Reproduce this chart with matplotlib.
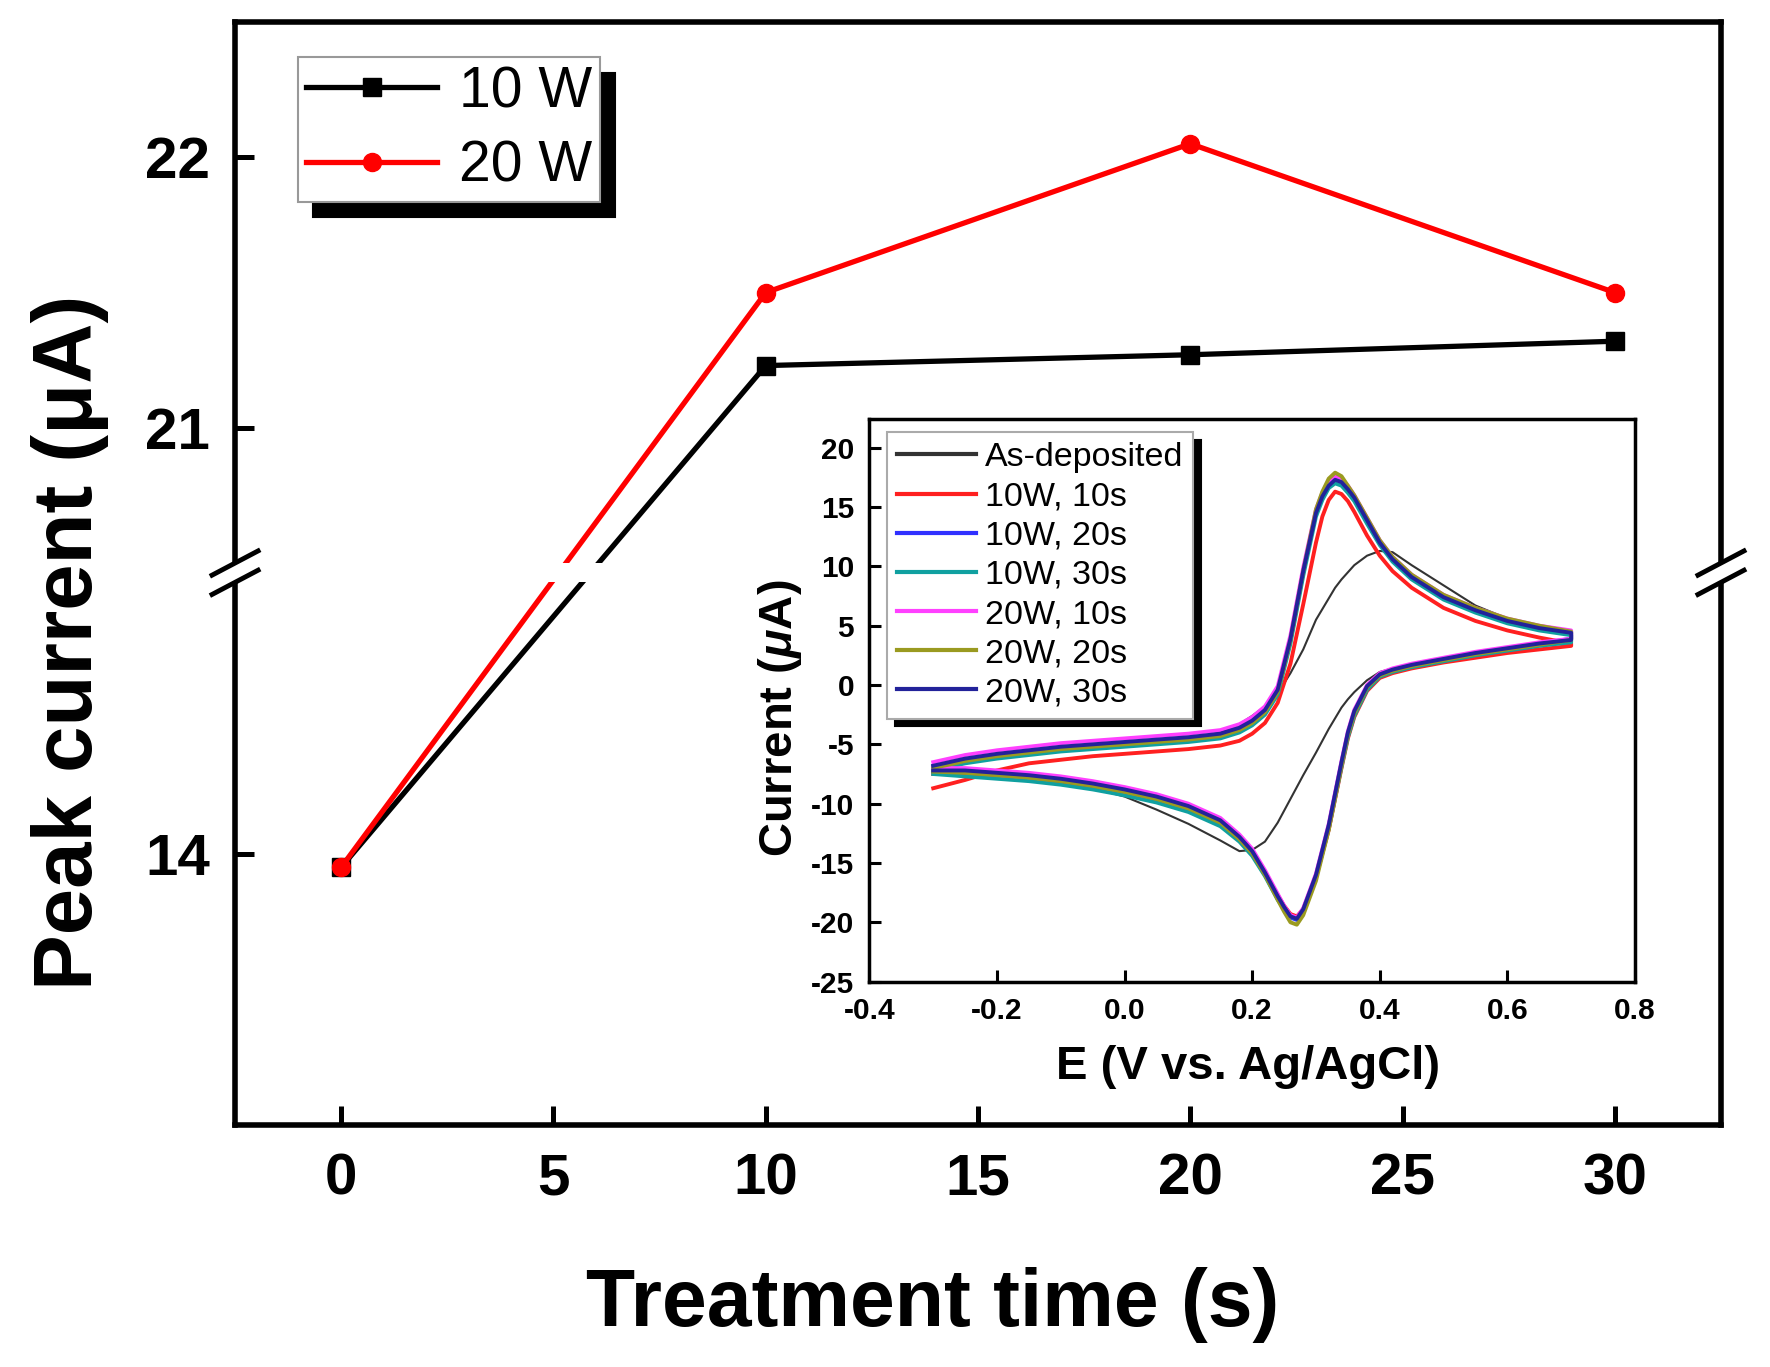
import numpy as np
import matplotlib
matplotlib.use('Agg')
import matplotlib.pyplot as plt
from matplotlib.patches import Rectangle
from matplotlib.ticker import FormatStrFormatter, NullLocator

plt.rcParams['font.family'] = ['Liberation Sans', 'DejaVu Sans']
plt.rcParams['font.weight'] = 'bold'
plt.rcParams['axes.unicode_minus'] = False
plt.rcParams['mathtext.fontset'] = 'custom'
plt.rcParams['mathtext.rm'] = 'Liberation Sans:bold'
plt.rcParams['mathtext.it'] = 'Liberation Sans:italic:bold'
plt.rcParams['mathtext.bf'] = 'Liberation Sans:bold'

# main plot: peak current vs treatment time
time_s = [0, 10, 20, 30]
peak_10w = [13.95, 21.23, 21.27, 21.32]
peak_20w = [13.95, 21.50, 22.05, 21.50]
time_ticks = [0, 5, 10, 15, 20, 25, 30]
peak_ticks = [14, 21, 22]

# broken y axis: lower and upper segments, gap edges in axes fraction
y_low = (13.0, 15.0)
y_high = (20.5, 22.5)
gap = (0.492, 0.5095)

# inset: cyclic voltammograms, forward and reverse scans
E_fwd = [-0.30, -0.25, -0.20, -0.15, -0.10, -0.05, 0.00, 0.05, 0.10, 0.15, 0.18,
         0.20, 0.22, 0.24, 0.26, 0.28, 0.30, 0.31, 0.32, 0.33, 0.34, 0.35, 0.36,
         0.38, 0.40, 0.42, 0.45, 0.50, 0.55, 0.60, 0.65, 0.70]
E_rev = [0.70, 0.65, 0.60, 0.55, 0.50, 0.45, 0.42, 0.40, 0.38, 0.36, 0.35, 0.34,
         0.32, 0.30, 0.28, 0.27, 0.26, 0.25, 0.24, 0.22, 0.20, 0.18, 0.15, 0.10,
         0.05, 0.00, -0.05, -0.10, -0.15, -0.20, -0.25, -0.30]

asdep_fwd = [-7.0, -6.5, -6.1, -5.8, -5.5, -5.3, -5.1, -4.9, -4.6, -4.0, -3.3,
             -2.6, -1.8, -0.7, 1.0, 3.0, 5.5, 6.4, 7.3, 8.2, 8.9, 9.5, 10.1,
             10.9, 11.3, 11.2, 10.1, 8.4, 6.7, 5.6, 4.9, 4.4]
asdep_rev = [3.9, 3.5, 3.1, 2.7, 2.2, 1.7, 1.4, 1.1, 0.4, -0.6, -1.2, -1.9,
             -3.7, -5.7, -7.6, -8.6, -9.6, -10.6, -11.6, -13.2, -13.9, -14.0, -13.1, -11.7,
             -10.5, -9.4, -8.7, -8.2, -7.8, -7.5, -7.3, -7.2]

w10s10_fwd = [-8.7, -8.0, -7.2, -6.6, -6.3, -6.0, -5.8, -5.6, -5.4, -5.1, -4.7,
              -4.1, -3.2, -1.5, 1.8, 6.8, 12.0, 14.2, 15.6, 16.3, 16.1, 15.5, 14.6,
              12.6, 10.9, 9.6, 8.2, 6.5, 5.4, 4.6, 4.0, 3.5]
w10s10_rev = [3.3, 3.0, 2.7, 2.3, 1.9, 1.4, 1.0, 0.6, -0.5, -2.7, -4.5, -7.0,
              -12.2, -16.2, -18.9, -19.5, -19.3, -18.6, -17.7, -15.8, -14.1, -12.9, -11.6, -10.4,
              -9.6, -9.0, -8.5, -8.1, -7.8, -7.6, -7.5, -7.5]

w10s20_fwd = [-6.9, -6.3, -5.9, -5.6, -5.3, -5.1, -4.9, -4.7, -4.5, -4.2, -3.7,
              -3.1, -2.2, -0.5, 3.8, 9.5, 14.6, 16.0, 17.0, 17.5, 17.3, 16.6, 15.9,
              14.0, 12.1, 10.7, 9.2, 7.5, 6.4, 5.5, 4.9, 4.5]
w10s20_rev = [3.9, 3.5, 3.1, 2.7, 2.2, 1.7, 1.3, 0.9, -0.1, -2.3, -4.1, -6.6,
              -11.9, -16.1, -19.0, -19.8, -19.6, -18.8, -17.9, -15.9, -14.1, -12.9, -11.5, -10.3,
              -9.5, -8.9, -8.4, -8.0, -7.7, -7.5, -7.3, -7.3]

w10s30_fwd = [-7.2, -6.6, -6.2, -5.9, -5.6, -5.4, -5.2, -5.0, -4.8, -4.5, -4.0,
              -3.4, -2.5, -0.8, 3.5, 9.2, 14.2, 15.6, 16.6, 17.0, 16.8, 16.2, 15.5,
              13.6, 11.8, 10.4, 8.9, 7.2, 6.1, 5.2, 4.6, 4.2]
w10s30_rev = [3.6, 3.3, 2.9, 2.5, 2.0, 1.5, 1.1, 0.7, -0.4, -2.6, -4.4, -6.9,
              -12.1, -16.2, -19.0, -19.7, -19.5, -18.9, -18.1, -16.1, -14.4, -13.2, -11.9, -10.7,
              -9.9, -9.3, -8.8, -8.4, -8.1, -7.9, -7.7, -7.5]

w20s10_fwd = [-6.5, -5.9, -5.5, -5.2, -4.9, -4.7, -4.5, -4.3, -4.1, -3.8, -3.3,
              -2.7, -1.8, -0.1, 4.2, 9.9, 14.8, 16.2, 17.2, 17.6, 17.4, 16.8, 16.0,
              14.1, 12.2, 10.8, 9.3, 7.6, 6.5, 5.6, 5.0, 4.6]
w20s10_rev = [3.9, 3.6, 3.2, 2.8, 2.3, 1.8, 1.4, 1.0, 0.0, -2.1, -3.9, -6.4,
              -11.7, -15.9, -18.8, -19.6, -19.4, -18.6, -17.6, -15.6, -13.8, -12.6, -11.2, -10.0,
              -9.2, -8.6, -8.1, -7.7, -7.4, -7.2, -7.0, -7.0]

w20s20_fwd = [-7.0, -6.4, -6.0, -5.7, -5.4, -5.2, -5.0, -4.8, -4.6, -4.3, -3.8,
              -3.2, -2.3, -0.6, 3.8, 9.6, 14.8, 16.3, 17.4, 17.9, 17.6, 16.8, 16.0,
              14.1, 12.2, 10.8, 9.3, 7.6, 6.5, 5.6, 5.0, 4.5]
w20s20_rev = [3.8, 3.4, 3.0, 2.6, 2.1, 1.6, 1.2, 0.8, -0.2, -2.4, -4.2, -6.8,
              -12.2, -16.5, -19.4, -20.2, -20.0, -19.1, -18.1, -16.0, -14.2, -13.0, -11.6, -10.4,
              -9.6, -9.0, -8.5, -8.1, -7.8, -7.6, -7.4, -7.3]

w20s30_fwd = [-6.8, -6.2, -5.8, -5.5, -5.2, -5.0, -4.8, -4.6, -4.4, -4.1, -3.6,
              -3.0, -2.1, -0.4, 3.9, 9.6, 14.5, 15.9, 16.8, 17.3, 17.1, 16.5, 15.8,
              13.9, 12.0, 10.6, 9.1, 7.4, 6.3, 5.4, 4.8, 4.4]
w20s30_rev = [3.8, 3.5, 3.1, 2.7, 2.2, 1.7, 1.3, 0.9, -0.1, -2.2, -4.0, -6.5,
              -11.8, -16.0, -18.9, -19.7, -19.5, -18.7, -17.8, -15.8, -14.0, -12.8, -11.4, -10.2,
              -9.4, -8.8, -8.3, -7.9, -7.6, -7.4, -7.2, -7.2]

cv_labels = ['As-deposited', '10W, 10s', '10W, 20s', '10W, 30s',
             '20W, 10s', '20W, 20s', '20W, 30s']
cv_colors = ['#333333', '#ff2020', '#3030ff', '#10a0a0', '#ff40ff', '#9a9a20', '#22229a']
cv_widths = [1.5, 2.8, 2.8, 2.8, 2.8, 2.8, 2.8]
cv_fwd = [asdep_fwd, w10s10_fwd, w10s20_fwd, w10s30_fwd, w20s10_fwd, w20s20_fwd, w20s30_fwd]
cv_rev = [asdep_rev, w10s10_rev, w10s20_rev, w10s30_rev, w20s10_rev, w20s20_rev, w20s30_rev]


def to_frac(y):
    y = np.asarray(y, dtype=float)
    s_lo = gap[0] / (y_low[1] - y_low[0])
    s_gap = (gap[1] - gap[0]) / (y_high[0] - y_low[1])
    s_hi = (1 - gap[1]) / (y_high[1] - y_high[0])
    return np.where(y <= y_low[1], (y - y_low[0]) * s_lo,
                    np.where(y <= y_high[0], gap[0] + (y - y_low[1]) * s_gap,
                             gap[1] + (y - y_high[0]) * s_hi))


def from_frac(v):
    v = np.asarray(v, dtype=float)
    s_lo = gap[0] / (y_low[1] - y_low[0])
    s_gap = (gap[1] - gap[0]) / (y_high[0] - y_low[1])
    s_hi = (1 - gap[1]) / (y_high[1] - y_high[0])
    return np.where(v <= gap[0], y_low[0] + v / s_lo,
                    np.where(v <= gap[1], y_low[1] + (v - gap[0]) / s_gap,
                             y_high[0] + (v - gap[1]) / s_hi))


fig = plt.figure(figsize=(17.7, 13.67), dpi=100)

# ---- main axes ----
ax = fig.add_axes([0.1328, 0.1770, 0.8395, 0.8069])
ax.set_yscale('function', functions=(to_frac, from_frac))
ax.plot(time_s, peak_10w, color='black', marker='s', ms=13, lw=3.8, label='10 W')
ax.plot(time_s, peak_20w, color='red', marker='o', ms=13, lw=3.8, label='20 W')
ax.set_xlim(-2.5, 32.5)
ax.set_ylim(y_low[0], y_high[1])
ax.set_xticks(time_ticks)
ax.set_yticks(peak_ticks)
ax.yaxis.set_minor_locator(NullLocator())
ax.yaxis.set_major_formatter(FormatStrFormatter('%d'))
ax.tick_params(direction='in', length=14, width=3.6, labelsize=42,
               top=False, right=False)
ax.tick_params(axis='x', pad=20)
ax.tick_params(axis='y', pad=18)
for sp in ax.spines.values():
    sp.set_linewidth(4)

# axis break: white band + slanted marks on both spines
ax.add_patch(Rectangle((-0.03, gap[0]), 1.06, gap[1] - gap[0], transform=ax.transAxes,
                       facecolor='white', edgecolor='none', zorder=3, clip_on=False))
dx, dy = 0.0155, 0.011
for xs in (0, 1):
    for ys in gap:
        ax.plot([xs - dx, xs + dx], [ys - dy, ys + dy], transform=ax.transAxes,
                color='black', lw=3.5, clip_on=False, zorder=4)

leg = ax.legend(loc='upper left', bbox_to_anchor=(0.0424, 0.968), borderaxespad=0,
                prop={'size': 41, 'weight': 'normal'}, handlelength=2.3,
                handletextpad=0.38, borderpad=0.14, labelspacing=0.36,
                fancybox=False, framealpha=1, edgecolor='#999999',
                shadow={'ox': 11, 'oy': -11, 'facecolor': 'black',
                        'edgecolor': 'black', 'alpha': 1})
leg.get_frame().set_linewidth(1.5)

fig.text(0.527, 0.030, 'Treatment time (s)', ha='center', va='baseline',
         fontsize=58, fontweight='bold')
fig.text(0.0395, 0.5303, 'Peak current (μA)', rotation=90, ha='center', va='center',
         fontsize=60, fontweight='bold')

# ---- inset ----
axin = fig.add_axes([0.4912, 0.2819, 0.4325, 0.4114])
for lab, col, lw, i_f, i_r in zip(cv_labels, cv_colors, cv_widths, cv_fwd, cv_rev):
    axin.plot(np.concatenate([E_fwd, E_rev]), np.concatenate([i_f, i_r]),
              color=col, lw=lw, label=lab)
axin.set_xlim(-0.4, 0.8)
axin.set_ylim(-25, 22.4)
axin.set_xticks([-0.4, -0.2, 0.0, 0.2, 0.4, 0.6, 0.8])
axin.set_yticks([-25, -20, -15, -10, -5, 0, 5, 10, 15, 20])
axin.xaxis.set_major_formatter(FormatStrFormatter('%.1f'))
axin.yaxis.set_major_formatter(FormatStrFormatter('%d'))
axin.tick_params(direction='in', length=8.5, width=2.2, labelsize=21.5, pad=11,
                 top=False, right=False)
for sp in axin.spines.values():
    sp.set_linewidth(2.5)

leg2 = axin.legend(loc='upper left', bbox_to_anchor=(0.023, 0.977), borderaxespad=0,
                   prop={'size': 24.5, 'weight': 'normal'}, handlelength=2.3,
                   handletextpad=0.27, borderpad=0.3, labelspacing=0.24,
                   fancybox=False, framealpha=1, edgecolor='#aaaaaa',
                   shadow={'ox': 5.5, 'oy': -5.5, 'facecolor': 'black',
                           'edgecolor': 'black', 'alpha': 1})
leg2.get_frame().set_linewidth(1.5)
for line in leg2.get_lines():
    line.set_linewidth(3)

fig.text(0.7051, 0.2107, 'E (V vs. Ag/AgCl)', ha='center', va='baseline',
         fontsize=34, fontweight='bold')
fig.text(0.4407, 0.4744, r'Current ($\mu$A)', rotation=90, ha='center', va='center',
         fontsize=34, fontweight='bold')

fig.savefig('out.png', dpi=100)
